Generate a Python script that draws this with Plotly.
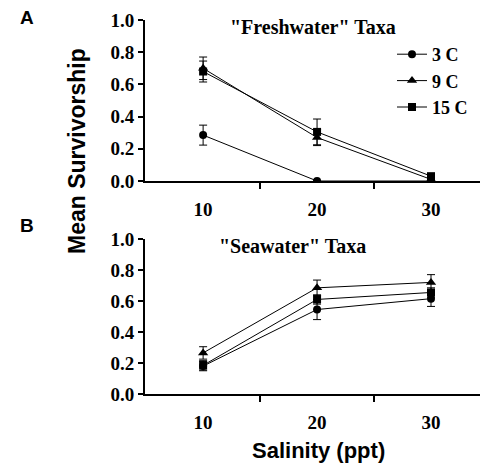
import plotly.graph_objects as go

salinity = [10, 20, 30]
series_names = ["3 C", "9 C", "15 C"]
symbols = ["circle", "triangle-up", "square"]

# Panel A: "Freshwater" taxa
fresh_mean = {"3 C": [0.285, 0.0, 0.0], "9 C": [0.70, 0.27, 0.01], "15 C": [0.68, 0.305, 0.03]}
fresh_err = {"3 C": [0.062, 0.0, 0.0], "9 C": [0.07, 0.05, 0.01], "15 C": [0.065, 0.08, 0.01]}

# Panel B: "Seawater" taxa
sea_mean = {"3 C": [0.18, 0.545, 0.615], "9 C": [0.265, 0.685, 0.72], "15 C": [0.185, 0.61, 0.655]}
sea_err = {"3 C": [0.03, 0.065, 0.05], "9 C": [0.04, 0.05, 0.05], "15 C": [0.03, 0.03, 0.03]}

y_ticks = [0.0, 0.2, 0.4, 0.6, 0.8, 1.0]
x_minor_ticks = [15, 25]

W, H = 480, 468
serif = "Liberation Serif, Times New Roman, serif"
sans = "Liberation Sans, Arial, sans-serif"

fig = go.Figure()

for name, sym in zip(series_names, symbols):
    msize = 9 if sym == "triangle-up" else 8
    fig.add_trace(go.Scatter(
        x=salinity, y=fresh_mean[name], name=name, mode="lines+markers",
        line=dict(color="black", width=1),
        marker=dict(symbol=sym, size=msize, color="black"),
        error_y=dict(type="data", array=fresh_err[name], color="black", thickness=1, width=4),
        xaxis="x", yaxis="y", showlegend=True,
    ))
    fig.add_trace(go.Scatter(
        x=salinity, y=sea_mean[name], name=name, mode="lines+markers",
        line=dict(color="black", width=1),
        marker=dict(symbol=sym, size=msize, color="black"),
        error_y=dict(type="data", array=sea_err[name], color="black", thickness=1, width=4),
        xaxis="x2", yaxis="y2", showlegend=False,
    ))

x_dom = [145 / W, 1.0]
yA = [1 - 181 / H, 1 - 20 / H]
yB = [1 - 394 / H, 1 - 239 / H]

def xaxis_cfg(anchor):
    return dict(
        domain=x_dom, range=[4.9, 34.3], anchor=anchor, automargin=False,
        tickmode="array", tickvals=salinity, ticks="",
        ticklabelstandoff=10,
        tickfont=dict(family=serif, size=19, color="black", weight="bold"),
        showline=True, linecolor="black", linewidth=2,
        showgrid=False, zeroline=False,
        minor=dict(tickmode="array", tickvals=x_minor_ticks, ticks="outside",
                   ticklen=6, tickwidth=2, tickcolor="black", showgrid=False),
    )

def yaxis_cfg(anchor, dom):
    return dict(
        domain=dom, range=[0, 1.0], anchor=anchor, automargin=False,
        tickmode="array", tickvals=y_ticks, tickformat=".1f",
        ticks="outside", ticklen=5, tickwidth=2, tickcolor="black",
        tickfont=dict(family=serif, size=19, color="black", weight="bold"),
        showline=True, linecolor="black", linewidth=2,
        showgrid=False, zeroline=False,
    )

def label(text, x, y, family, size, angle=0):
    return dict(text=text, x=x / W, y=1 - y / H, xref="paper", yref="paper",
                xanchor="center", yanchor="middle", showarrow=False, textangle=angle,
                font=dict(family=family, size=size, color="black"))

fig.update_layout(
    template="none",
    width=W, height=H,
    margin=dict(l=0, r=0, t=0, b=0, autoexpand=False),
    paper_bgcolor="white", plot_bgcolor="white",
    xaxis=xaxis_cfg("y"), yaxis=yaxis_cfg("x", yA),
    xaxis2=xaxis_cfg("y2"), yaxis2=yaxis_cfg("x2", yB),
    showlegend=True,
    legend=dict(
        x=392 / W, y=1 - 36 / H, xanchor="left", yanchor="top",
        bgcolor="rgba(0,0,0,0)", borderwidth=0,
        font=dict(family=serif, size=18, color="black", weight="bold"),
        itemwidth=30, tracegroupgap=0,
    ),
    annotations=[
        label('<b>"Freshwater" Taxa</b>', 313, 27, serif, 20),
        label('<b>"Seawater" Taxa</b>', 292, 246, serif, 20),
        label("<b>A</b>", 27, 18, sans, 19),
        label("<b>B</b>", 27, 225, sans, 19),
        label("<b>Mean Survivorship</b>", 77, 151, sans, 23, -90),
        label("<b>Salinity (ppt)</b>", 318, 450, sans, 22),
    ],
)

fig.write_html("out.html")
